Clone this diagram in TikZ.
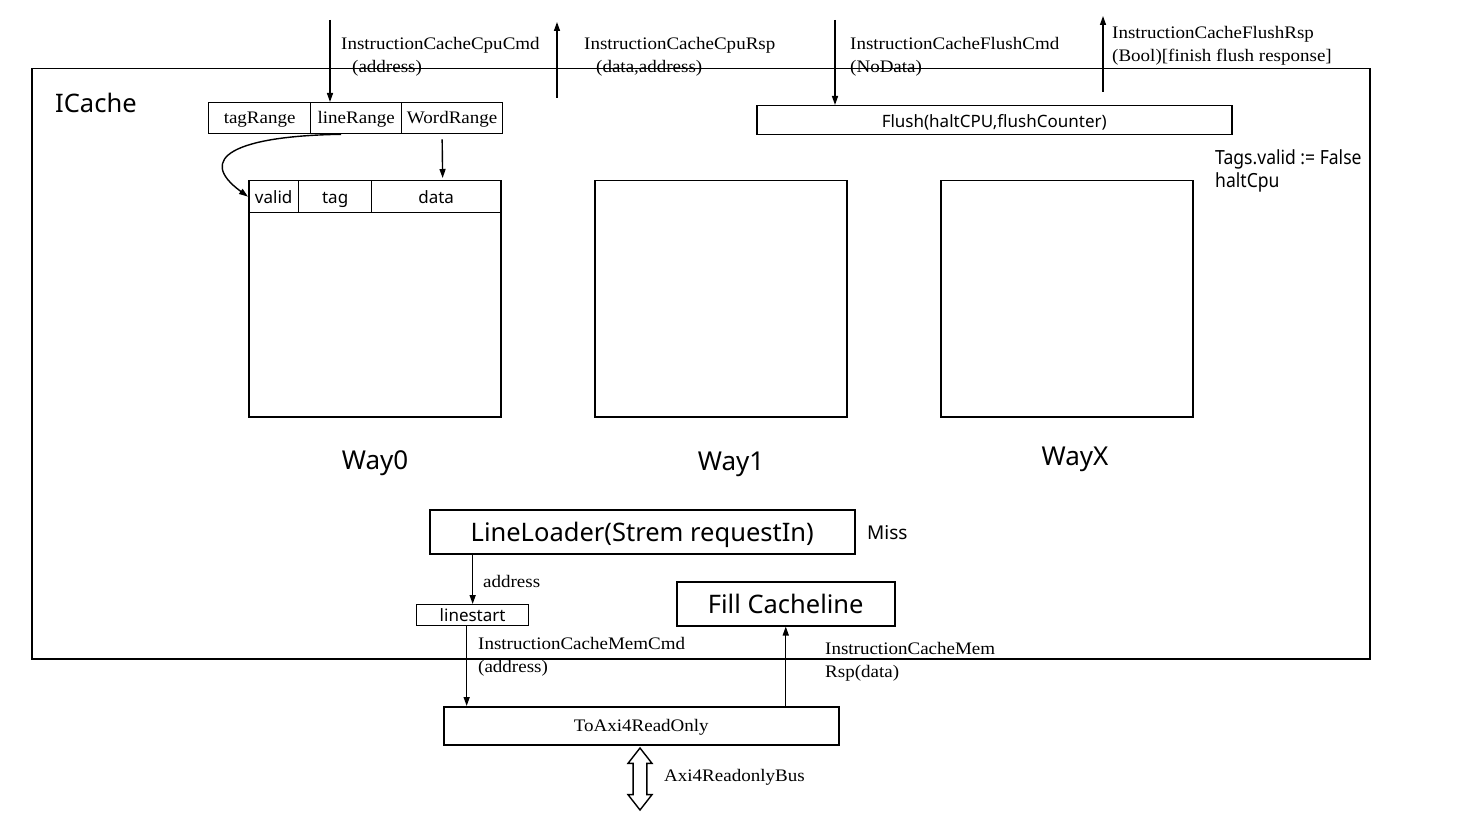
\documentclass[tikz,border=0pt]{standalone}
\usepackage{fontspec}
\setmainfont[FakeStretch=1.08]{Liberation Serif}
\newfontfamily\uisans{Noto Sans}
\newfontfamily\uisansnarrow[FakeStretch=0.9]{Noto Sans}
\usetikzlibrary{arrows.meta,shapes.arrows,calc}

\tikzset{
  blk/.style={draw, line width=1.5pt, inner sep=0pt, anchor=north west},
  cell/.style={blk, line width=1.3pt},
  arr/.style={line width=1.4pt, -{Triangle[length=9pt,width=6pt]}},
  serif/.style={font=\fontsize{#1}{#1}\selectfont, text height={#1pt*0.68}, text depth={#1pt*0.08}},
  sans/.style={font=\uisans\fontsize{#1}{#1}\selectfont, text height={#1pt*0.8}, text depth=0pt},
  lbl/.style={anchor=base west, inner sep=0pt, font=\fontsize{17.6}{18}\selectfont},
  caption/.style={anchor=base, inner sep=0pt, font=\uisans\fontsize{26}{26}\selectfont},
}

\begin{document}
\begin{tikzpicture}[x=1pt,y=-1pt]
\useasboundingbox[fill=white] (0,0) rectangle (1459,821);

% outer ICache block
\node[blk, minimum width=1338pt, minimum height=590pt] (icache) at (31,68) {};
\node[anchor=base west, inner sep=0pt, font=\uisans\fontsize{25.5}{26}\selectfont] (icname) at (55,113) {ICache};

% address fields
\node[cell, minimum width=102pt, minimum height=31pt, serif=17.6] (tagR) at (208,102) {tagRange};
\node[cell, minimum width=91pt, minimum height=31pt, serif=17.6] (lineR) at (310,102) {lineRange};
\node[cell, minimum width=101pt, minimum height=31pt, serif=17.6] (wordR) at (401,102) {WordRange};

% flush controller
\node[blk, minimum width=475pt, minimum height=29pt, sans=17] (flush) at (756,105) {Flush(haltCPU,flushCounter)};
\node[anchor=base west, inner sep=0pt, font=\uisansnarrow\fontsize{19.5}{23}\selectfont] (flushnote1) at (1215,165) {Tags.valid := False};
\node[anchor=base west, inner sep=0pt, font=\uisansnarrow\fontsize{19.5}{23}\selectfont] (flushnote2) at (1215,188) {haltCpu};

% ways
\node[blk, minimum width=252pt, minimum height=236pt] (way0) at (248,180) {};
\node[cell, minimum width=50pt, minimum height=32pt, sans=17] (validC) at (248,180) {valid};
\node[cell, minimum width=73pt, minimum height=32pt, sans=17] (tagC) at (298,180) {tag};
\node[cell, minimum width=129pt, minimum height=32pt, sans=17] (dataC) at (371,180) {data};
\node[blk, minimum width=252pt, minimum height=236pt] (way1) at (594,180) {};
\node[blk, minimum width=252pt, minimum height=236pt] (wayX) at (940,180) {};
\node[caption] (way0n) at (375,469) {Way0};
\node[caption] (way1n) at (731,470) {Way1};
\node[caption] (wayXn) at (1075,465) {WayX};

% miss handling
\node[blk, minimum width=425pt, minimum height=44pt, sans=25.5] (loader) at (429,509) {LineLoader(Strem requestIn)};
\node[anchor=base west, inner sep=0pt, font=\uisans\fontsize{19}{19}\selectfont] (miss) at (867,539) {Miss};
\node[blk, line width=1.3pt, minimum width=112pt, minimum height=21pt, sans=17] (linestart) at (416,604) {linestart};
\node[blk, minimum width=218pt, minimum height=44pt, sans=25.5] (fill) at (676,581) {Fill Cacheline};
\node[blk, minimum width=395pt, minimum height=38pt, serif=17.6] (axi) at (443,706) {ToAxi4ReadOnly};

% external ports
\coordinate (cpuCmdIn) at (330,20);
\coordinate (cpuRspFrom) at (557,98);
\coordinate (cpuRspOut) at (557,22);
\coordinate (flushCmdIn) at (835,20);
\coordinate (flushRspFrom) at (1103,92);
\coordinate (flushRspOut) at (1103,16);

\draw[arr] (cpuCmdIn) -- (cpuCmdIn |- lineR.north);
\draw[arr] (cpuRspFrom) -- (cpuRspOut);
\draw[arr] (flushCmdIn) -- (flushCmdIn |- flush.north);
\draw[arr] (flushRspFrom) -- (flushRspOut);

\node[lbl] (cpuCmdL) at (341,50) {InstructionCacheCpuCmd};
\node[lbl] (cpuCmdL2) at (352,73) {(address)};
\node[lbl] (cpuRspL) at (584,50) {InstructionCacheCpuRsp};
\node[lbl] (cpuRspL2) at (596,73) {(data,address)};
\node[lbl] (flushCmdL) at (850,50) {InstructionCacheFlushCmd};
\node[lbl] (flushCmdL2) at (850,73) {(NoData)};
\node[lbl] (flushRspL) at (1112,39) {InstructionCacheFlushRsp};
\node[lbl] (flushRspL2) at (1112,62) {(Bool)[finish flush response]};

% line index selects the set, word offset selects the data
\draw[arr] ($(lineR.south)+(-15,0)$) .. controls (235,136) and (195,158) .. (validC.west);
\draw[arr] ($(wordR.south)+(-10,5)$) -- ($(dataC.north)+(6.5,-2)$);

% refill path
\draw[arr] (linestart.north |- loader.south) -- (linestart.north);
\node[lbl] (addrL) at (483,587) {address};
\coordinate (lsOut) at ($(linestart.south)+(-6,0)$);
\draw[arr] (lsOut) -- (lsOut |- axi.north);
\node[lbl] (memCmdL) at (478,649) {InstructionCacheMemCmd};
\node[lbl] (memCmdL2) at (478,672) {(address)};
\draw[arr] (fill.south |- axi.north) -- (fill.south);
\node[lbl] (memRspL) at (825,654) {InstructionCacheMem};
\node[lbl] (memRspL2) at (825,677) {Rsp(data)};

% AXI bus
\node[draw, line width=1.4pt, double arrow, rotate=90, minimum height=62pt, minimum width=24pt,
      double arrow head extend=3.5pt, inner sep=4pt, double arrow tip angle=76] (bus) at (640,779) {};
\node[lbl] (busL) at (664,781) {Axi4ReadonlyBus};

\end{tikzpicture}
\end{document}
